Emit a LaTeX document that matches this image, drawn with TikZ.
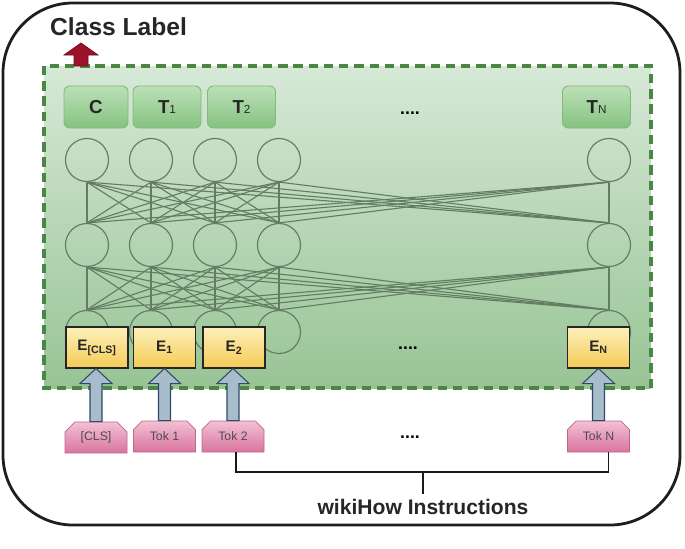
\documentclass[tikz,border=0pt]{standalone}
\usepackage{fontspec}
\setmainfont{Liberation Sans}
\usetikzlibrary{calc,shapes.misc}
\definecolor{frame}{HTML}{1E1E1E}
\definecolor{areatop}{HTML}{D7E8D7}
\definecolor{areabot}{HTML}{98C495}
\definecolor{areadash}{HTML}{4A8747}
\definecolor{ttop}{HTML}{BDE0B8}
\definecolor{tbot}{HTML}{84C27F}
\definecolor{tline}{HTML}{7DBD78}
\definecolor{nline}{HTML}{627D62}
\definecolor{etop}{HTML}{FDF0BA}
\definecolor{ebot}{HTML}{F4CB55}
\definecolor{afill}{HTML}{A8BDCC}
\definecolor{aline}{HTML}{2D4A66}
\definecolor{ktop}{HTML}{F3C0D3}
\definecolor{kbot}{HTML}{D8759F}
\definecolor{kline}{HTML}{C0668E}
\definecolor{redfill}{HTML}{9E1229}
\definecolor{redline}{HTML}{6E0A1A}

\begin{document}
\begin{tikzpicture}[x=0.03cm,y=-0.03cm,
  tbox/.style={draw=tline,line width=0.8pt,rounded corners=5pt,top color=ttop,bottom color=tbot,
    minimum width=2.04cm,minimum height=1.26cm,inner sep=0pt,font=\fontsize{16}{16}\selectfont\bfseries,text=black!85},
  neuron/.style={circle,draw=nline,line width=1pt,minimum size=1.29cm,inner sep=0pt},
  wire/.style={draw=nline,line width=0.95pt},
  ebox/.style={draw=black!85,line width=0.9pt,top color=etop,bottom color=ebot,
    minimum width=1.86cm,minimum height=1.23cm,inner sep=0pt,font=\fontsize{13}{13}\selectfont\bfseries,text=black!85},
  tok/.style={chamfered rectangle,chamfered rectangle corners={north west,north east},chamfered rectangle xsep=0.33cm,
    draw=kline,line width=0.7pt,top color=ktop,bottom color=kbot,minimum width=1.86cm,minimum height=0.93cm,
    inner sep=0pt,font=\fontsize{10.5}{10.5}\selectfont,text=black!70},
  blockarr/.style={draw=aline,line width=0.9pt,fill=afill},
  dots/.style={font=\fontsize{15}{15}\selectfont\bfseries,anchor=base,inner sep=0pt},
  bracket/.style={line width=1.6pt,black!90}]
\useasboundingbox (0,0) rectangle (685,548);
\draw[frame,line width=2.4pt,rounded corners=2.1cm] (3,3) rectangle (680,525);
\shade[top color=areatop,bottom color=areabot] (44,66) rectangle (651,388);
\draw[areadash,line width=3pt,dash pattern=on 8pt off 5pt] (44,66) rectangle (651,388);
\node[anchor=base west,inner sep=0pt,font=\fontsize{21}{21}\selectfont\bfseries,text=black!85] (cls) at (50,35) {Class Label};
\draw[redline,fill=redfill,line width=0.6pt] (74,66) -- (74,55) -- (64,55) -- (81,43) -- (98,55) -- (88,55) -- (88,66) -- cycle;
\foreach \x [count=\i] in {87,151,215,279,609}{
  \node[neuron] (a\i) at (\x,160) {};
  \node[neuron] (b\i) at (\x,245) {};
  \node[neuron] (c\i) at (\x,332) {};
}
\foreach \i in {1,...,5}
  \foreach \j in {1,...,5}{
    \draw[wire] (a\i.south) -- (b\j.north);
    \draw[wire] (b\i.south) -- (c\j.north);
  }
\node[tbox,minimum width=1.92cm] (tc) at (96,107) {C};
\node[tbox] (t1) at (167,107) {T{\fontsize{10}{10}\selectfont\mdseries 1}};
\node[tbox] (t2) at (241.5,107) {T{\fontsize{10}{10}\selectfont\mdseries 2}};
\node[tbox] (tn) at (596.5,107) {T{\fontsize{10}{10}\selectfont\mdseries N}};
\node[dots] (d1) at (410,114) {....};
\node[ebox] (ec) at (97,347.5) {E\textsubscript{[CLS]}};
\node[ebox] (e1) at (164.5,347.5) {E\textsubscript{1}};
\node[ebox] (e2) at (234,347.5) {E\textsubscript{2}};
\node[ebox] (en) at (598.5,347.5) {E\textsubscript{N}};
\node[dots] (d2) at (408,349) {....};
\node[tok] (kc) at (96,437.5) {[CLS]};
\node[tok] (k1) at (164.5,436.5) {Tok 1};
\node[tok] (k2) at (233,436.5) {Tok 2};
\node[tok] (kn) at (598.5,436.5) {Tok N};
\node[dots] (d3) at (410,438) {....};
\foreach \a/\b in {kc/ec,k1/e1,k2/e2,kn/en}
  \draw[blockarr] ($(\a.north)+(-6,0)$) -- ($(\a.north |- \b.south)+(-6,15)$) -- ++(-10,0) -- (\a.north |- \b.south)
    -- ($(\a.north |- \b.south)+(16,15)$) -- ++(-10,0) -- ($(\a.north)+(6,0)$) -- cycle;
\node[anchor=base,inner xsep=0pt,inner ysep=4pt,font=\fontsize{18}{18}\selectfont\bfseries,text=black!85] (wiki) at (423,514) {wikiHow Instructions};
\coordinate (mid) at (423,472);
\draw[bracket] ($(k2.south)+(3,0)$) |- (mid) -| ($(kn.south)+(10,0)$);
\draw[bracket] (mid) -- (mid |- wiki.north);
\end{tikzpicture}
\end{document}
